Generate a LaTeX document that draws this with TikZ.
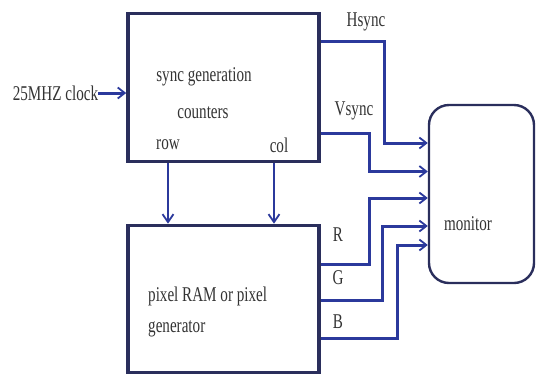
\documentclass[tikz,border=0pt]{standalone}
\usepackage{fontspec}
\usepackage{graphicx}
\setmainfont{Liberation Serif}
\usetikzlibrary{arrows.meta}
\definecolor{boxline}{HTML}{2A2E5C}
\definecolor{wire}{HTML}{2B399C}
\definecolor{txt}{HTML}{333333}
\newcommand{\cond}[1]{\scalebox{0.72}[1]{#1}}
\tikzset{
  blockbox/.style={draw=boxline, line width=3.6pt, minimum width=191pt, inner sep=0pt},
  monbox/.style={draw=boxline, line width=2.4pt, rounded corners=20pt, minimum width=105pt, minimum height=178pt, inner sep=0pt},
  lbl/.style={text=txt, font=\fontsize{21}{23}\selectfont, inner sep=0pt},
  conn/.style={draw=wire, line width=3pt},
  arr/.style={conn, -{Straight Barb[length=7pt,width=11pt,line width=1.8pt]}},
  varr/.style={draw=wire, line width=2.4pt, -{Straight Barb[length=8pt,width=11pt,line width=1.8pt]}}
}
\begin{document}
\begin{tikzpicture}[x=1pt,y=-1pt]
\useasboundingbox (0,0) rectangle (538,373);
% blocks
\node[blockbox, minimum height=148pt] (sync) at (223.5,87.5) {};
\node[blockbox, minimum height=147pt] (pix) at (223.5,299) {};
\node[monbox] (mon) at (481.5,194) {};
% texts
\node[lbl] (clk) at (55.5,93) {\cond{25MHZ clock}};
\node[lbl] (t1) at (204,77) {\cond{sync generation}};
\node[lbl] (t2) at (203,113) {\cond{counters}};
\node[lbl] (row) at (168,145) {\cond{row}};
\node[lbl] (col) at (279,145) {\cond{col}};
\node[lbl, anchor=west] (p1) at (148,296) {\cond{pixel RAM or pixel}};
\node[lbl, anchor=west] (p2) at (148,329) {\cond{generator}};
\node[lbl] (mt) at (468,224) {\cond{monitor}};
\node[lbl] (hl) at (366,22) {\cond{Hsync}};
\node[lbl] (vl) at (354,111) {\cond{Vsync}};
\node[lbl] (rl) at (338,235) {\cond{R}};
\node[lbl] (gl) at (338,278) {\cond{G}};
\node[lbl] (bl) at (338,322) {\cond{B}};
% clock
\draw[arr] (clk.east) -- (sync.west |- clk.east);
% row / col
\draw[varr] (sync.south -| row) -- (pix.north -| row);
\draw[varr] (sync.south -| 274,0) -- (pix.north -| 274,0);
% sync outputs
\draw[arr] (sync.east |- 0,41) -| (384,143) -- (mon.west |- 0,143);
\draw[arr] (sync.east |- 0,133.5) -| (369,171.5) -- (mon.west |- 0,171.5);
% colour outputs
\draw[arr] (pix.east |- 0,264) -| (369,198) -- (mon.west |- 0,198);
\draw[arr] (pix.east |- 0,300) -| (382,226) -- (mon.west |- 0,226);
\draw[arr] (pix.east |- 0,338) -| (397,245) -- (mon.west |- 0,245);
\end{tikzpicture}
\end{document}
